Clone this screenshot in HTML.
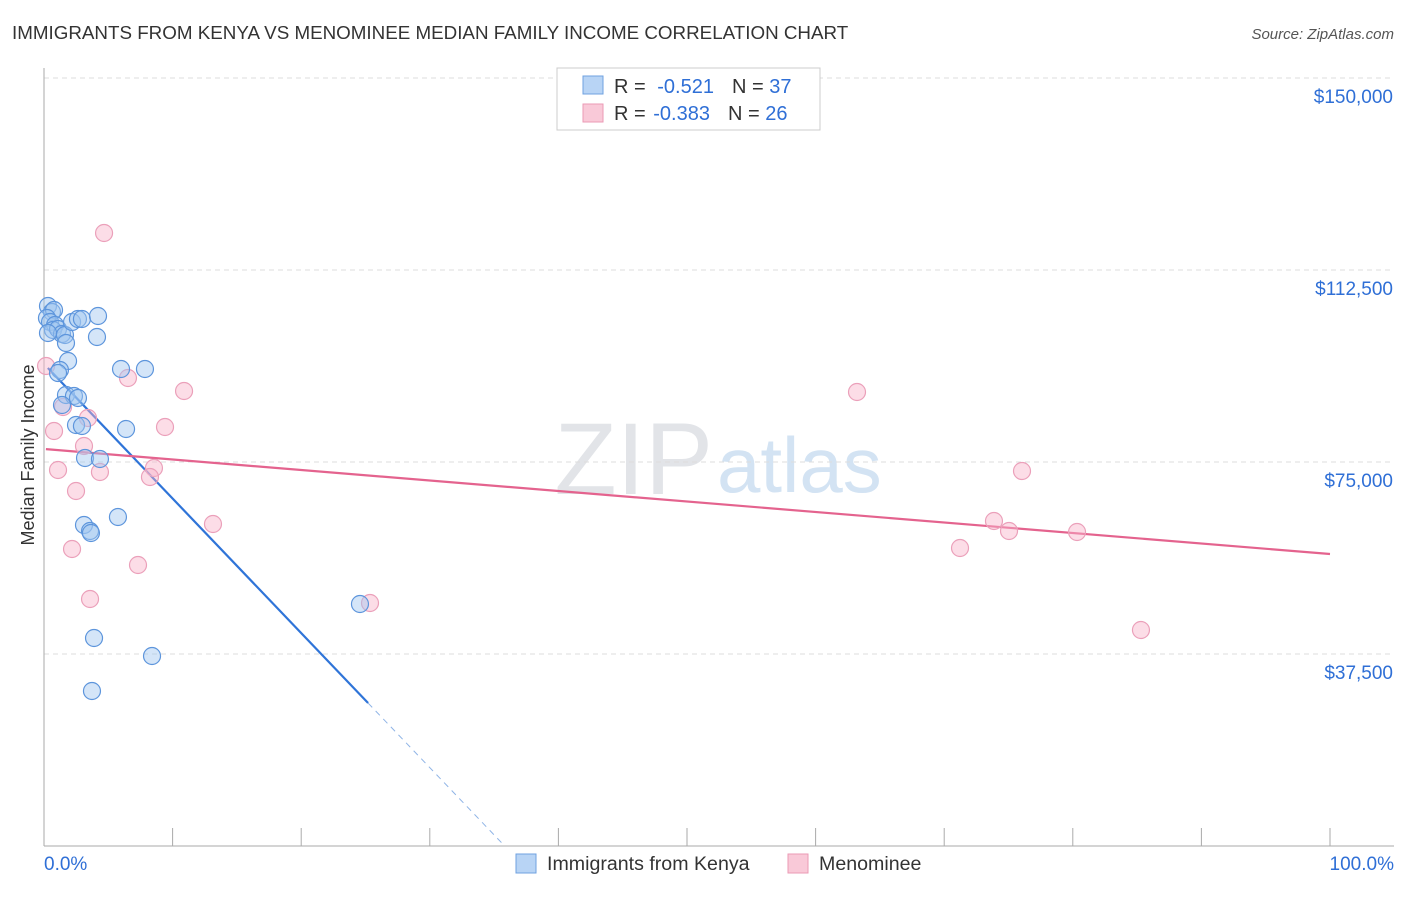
<!DOCTYPE html>
<html><head><meta charset="utf-8"><style>
body{margin:0;background:#fff;font-family:"Liberation Sans",sans-serif;}
svg text{font-family:"Liberation Sans",sans-serif;}
</style></head><body>
<svg width="1406" height="892" id="chart">
<text x="12" y="39" font-size="18.8" fill="#333">IMMIGRANTS FROM KENYA VS MENOMINEE MEDIAN FAMILY INCOME CORRELATION CHART</text>
<text x="1394" y="39" font-size="15" fill="#555" font-style="italic" text-anchor="end">Source: ZipAtlas.com</text>
<text x="713" y="494" font-size="102" fill="#e2e4e8" text-anchor="end" font-family="Liberation Serif">ZIP</text>
<text x="717" y="492" font-size="78" fill="#d3e3f3">atlas</text>
<g id="grid"></g>
<g id="axes"></g>
<text transform="translate(34,455) rotate(-90)" font-size="18" fill="#333" text-anchor="middle">Median Family Income</text>
<g id="lines"></g>
<g id="pts"></g>
<g>
<rect x="557" y="68" width="263" height="62" fill="#fff" stroke="#ccc"/>
<rect x="583" y="76" width="20" height="18" fill="#b8d4f5" stroke="#6fa2e0"/>
<text x="614" y="93" font-size="20" fill="#333">R = <tspan fill="#2f6fd6" dx="6">-0.521</tspan><tspan dx="18">N = </tspan><tspan fill="#2f6fd6">37</tspan></text>
<rect x="583" y="104" width="20" height="18" fill="#f9c9d8" stroke="#eb9ab5"/>
<text x="614" y="120" font-size="20" fill="#333">R = <tspan fill="#2f6fd6" dx="2">-0.383</tspan><tspan dx="18">N = </tspan><tspan fill="#2f6fd6">26</tspan></text>
</g>
<g>
<rect x="516" y="854" width="20" height="19" fill="#b8d4f5" stroke="#6fa2e0"/>
<text x="547" y="870" font-size="19.6" fill="#333">Immigrants from Kenya</text>
<rect x="788" y="854" width="20" height="19" fill="#f9c9d8" stroke="#eb9ab5"/>
<text x="819" y="870" font-size="19.6" fill="#333">Menominee</text>
</g>
</svg>
<script>
const yTicks=[37500,75000,112500,150000];
const yTickLabels=["$37,500","$75,000","$112,500","$150,000"];
const xTickLabels=["0.0%","100.0%"];
const kenyaX=[0.31,0.62,0.78,0.23,0.47,0.86,0.70,1.09,1.40,1.63,1.71,0.31,2.18,2.64,2.95,4.20,4.12,1.87,1.24,1.09,5.99,7.85,1.71,2.33,2.64,1.40,2.49,2.95,6.38,3.19,4.35,3.11,3.58,3.65,5.75,24.57,3.89,8.40,3.73];
const kenyaY=[105469,104297,104688,103125,102344,101758,100781,100977,100000,99805,98242,100195,102344,102930,102930,103516,99414,94727,92969,92383,93164,93164,88086,87891,87500,86133,82227,82031,81445,75781,75586,62695,61523,61133,64258,47266,40625,37109,30273];
const menoX=[4.67,0.16,6.53,10.89,1.48,3.42,0.78,9.41,3.11,1.09,8.55,4.35,8.24,2.49,13.14,2.18,7.31,3.58,25.35,63.22,76.05,73.87,75.04,80.33,71.23,85.30];
const menoY=[119727,93750,91406,88867,85742,83594,81055,81836,78125,73438,73828,73047,72070,69336,62891,58008,54883,48242,47461,88672,73242,63477,61523,61328,58203,42188];
const kenyaTrend=[94147,-2628];
const menoTrend=[77539,-205.08];
const NS='http://www.w3.org/2000/svg';
const X=v=>44+v*12.86, Y=v=>846-v/195.3125;
function mk(t,a,p){const e=document.createElementNS(NS,t);for(const k in a)e.setAttribute(k,a[k]);p.appendChild(e);return e;}
const grid=document.getElementById('grid'),axes=document.getElementById('axes');
yTicks.forEach((v,i)=>{
 const l=mk('line',{x1:44,x2:1394,y1:Y(v),y2:Y(v),stroke:'#ddd','stroke-dasharray':'5,4'},grid);
 
 
 const t=mk('text',{x:1393,y:Y(v)+25,'font-size':19,fill:'#2f6fd6','text-anchor':'end'},axes);
 t.textContent=yTickLabels[i];
 
 
});
mk('line',{x1:44,x2:44,y1:68,y2:846,stroke:'#aaa'},axes);
mk('line',{x1:44,x2:1394,y1:846,y2:846,stroke:'#aaa'},axes);
for(let i=0;i<=10;i++){mk('line',{x1:X(i*10),x2:X(i*10),y1:828,y2:846,stroke:'#aaa'},axes);}
[[0,'start'],[100,'end']].forEach((d,i)=>{
 const t=mk('text',{x:i?1394:44,y:870,'font-size':19,fill:'#2f6fd6','text-anchor':d[1]},axes);
 t.textContent=xTickLabels[i];
 
 
});
const pts=document.getElementById('pts');
function dots(xs,ys,fill,stroke,name){xs.forEach((x,i)=>{
 const c=mk('circle',{cx:X(x),cy:Y(ys[i]),r:8.5,fill:fill,stroke:stroke,'stroke-width':1.2},pts);
 
 
});}
dots(menoX,menoY,'rgba(248,180,202,0.45)','#eba0ba','menominee-point');
dots(kenyaX,kenyaY,'rgba(160,197,240,0.45)','#5d95dc','kenya-point');
const lines=document.getElementById('lines');
const kf=x=>kenyaTrend[0]+kenyaTrend[1]*x, mf=x=>menoTrend[0]+menoTrend[1]*x;
const kEnd=-kenyaTrend[0]/kenyaTrend[1];
const l1=mk('line',{x1:X(0.3),y1:Y(kf(0.3)),x2:X(25.2),y2:Y(kf(25.2)),stroke:'#2f74d8','stroke-width':2.2},lines);


const l2=mk('line',{x1:X(25.2),y1:Y(kf(25.2)),x2:X(kEnd),y2:Y(0),stroke:'#8fb4e6','stroke-width':1,'stroke-dasharray':'6,5'},lines);


const l3=mk('line',{x1:X(0.15),y1:Y(mf(0.15)),x2:X(100),y2:Y(mf(100)),stroke:'#e4638e','stroke-width':2.2},lines);


</script>
</body></html>
